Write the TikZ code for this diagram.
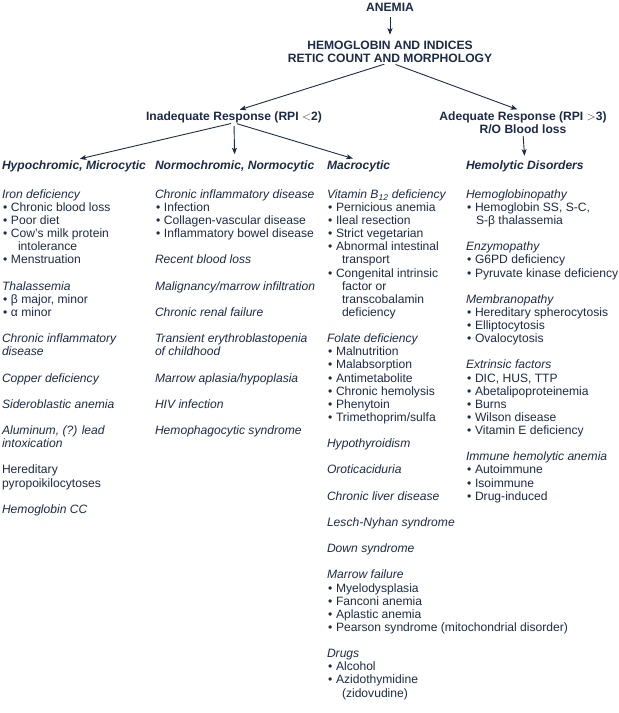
\documentclass[tikz,border=0pt]{standalone}
\usepackage{fontspec}
\setmainfont{Liberation Sans}
\usetikzlibrary{arrows.meta, positioning}
\definecolor{ink}{HTML}{1C2A48}
\newcommand{\itm}{\makebox[9pt][l]{\hspace*{1pt}•}}
\newcommand{\grp}[1]{{\itshape #1}}
\newcommand{\skipline}{\\[13.125pt]}

\begin{document}
\begin{tikzpicture}[x=1pt, y=-1pt, >={Stealth[length=6.5pt, width=5pt, inset=1.5pt]},
	every node/.style={inner sep=0pt, outer sep=0pt, text=ink, font=\fontsize{12.1}{13.125}\selectfont},
	rung/.style={font=\fontsize{12.1}{13.125}\selectfont\bfseries, align=center},
	headbox/.style={font=\fontsize{12.1}{13.125}\selectfont\bfseries\itshape, anchor=base west},
	listbox/.style={align=left, anchor=north west},
	link/.style={->, color=ink, line width=0.9pt, shorten <=6pt, shorten >=6pt}]
	\useasboundingbox (0,0) rectangle (619,713);

	\node[rung, anchor=base] (anemia) at (390,11.3) {ANEMIA};
	\node[rung, anchor=north] (hgb) at (390,40.7) {HEMOGLOBIN AND INDICES\\RETIC COUNT AND MORPHOLOGY};
	\node[rung, anchor=base] (inad) at (234,120.3) {Inadequate Response (RPI $<$2)};
	\node[rung, anchor=north] (adeq) at (523,111.5) {Adequate Response (RPI $>$3)\\R/O Blood loss};

	\node[headbox] (hypo) at (2,169) {Hypochromic, Microcytic};
	\node[headbox] (normo) at (155,169) {Normochromic, Normocytic};
	\node[headbox] (macro) at (327,169) {Macrocytic};
	\node[headbox] (hemo) at (466,169) {Hemolytic Disorders};

	\node[listbox] (hypolist) at (2,189.5) {\grp{Iron deficiency}\\
		\itm Chronic blood loss\\
		\itm Poor diet\\
		\itm Cow's milk protein\\
		\hspace*{16pt}intolerance\\
		\itm Menstruation\skipline
		\grp{Thalassemia}\\
		\itm β major, minor\\
		\itm α minor\skipline
		\grp{Chronic inflammatory}\\
		\grp{disease}\skipline
		\grp{Copper deficiency}\skipline
		\grp{Sideroblastic anemia}\skipline
		\grp{Aluminum, (?) lead}\\
		\grp{intoxication}\skipline
		Hereditary\\
		pyropoikilocytoses\skipline
		\grp{Hemoglobin CC}};

	\node[listbox] (normolist) at (155,189.5) {\grp{Chronic inflammatory disease}\\
		\itm Infection\\
		\itm Collagen-vascular disease\\
		\itm Inflammatory bowel disease\skipline
		\grp{Recent blood loss}\skipline
		\grp{Malignancy/marrow infiltration}\skipline
		\grp{Chronic renal failure}\skipline
		\grp{Transient erythroblastopenia}\\
		\grp{of childhood}\skipline
		\grp{Marrow aplasia/hypoplasia}\skipline
		\grp{HIV infection}\skipline
		\grp{Hemophagocytic syndrome}};

	\node[listbox] (macrolist) at (327,189.5) {\grp{Vitamin B\textsubscript{12} deficiency}\\
		\itm Pernicious anemia\\
		\itm Ileal resection\\
		\itm Strict vegetarian\\
		\itm Abnormal intestinal\\
		\hspace*{15pt}transport\\
		\itm Congenital intrinsic\\
		\hspace*{15pt}factor or\\
		\hspace*{15pt}transcobalamin\\
		\hspace*{15pt}deficiency\skipline
		\grp{Folate deficiency}\\
		\itm Malnutrition\\
		\itm Malabsorption\\
		\itm Antimetabolite\\
		\itm Chronic hemolysis\\
		\itm Phenytoin\\
		\itm Trimethoprim/sulfa\skipline
		\grp{Hypothyroidism}\skipline
		\grp{Oroticaciduria}\skipline
		\grp{Chronic liver disease}\skipline
		\grp{Lesch-Nyhan syndrome}\skipline
		\grp{Down syndrome}\skipline
		\grp{Marrow failure}\\
		\itm Myelodysplasia\\
		\itm Fanconi anemia\\
		\itm Aplastic anemia\\
		\itm Pearson syndrome (mitochondrial disorder)\skipline
		\grp{Drugs}\\
		\itm Alcohol\\
		\itm Azidothymidine\\
		\hspace*{15pt}(zidovudine)};

	\node[listbox] (hemolist) at (466,189.5) {\grp{Hemoglobinopathy}\\
		\itm Hemoglobin SS, S-C,\\
		\hspace*{10pt}S-β thalassemia\skipline
		\grp{Enzymopathy}\\
		\itm G6PD deficiency\\
		\itm Pyruvate kinase deficiency\skipline
		\grp{Membranopathy}\\
		\itm Hereditary spherocytosis\\
		\itm Elliptocytosis\\
		\itm Ovalocytosis\skipline
		\grp{Extrinsic factors}\\
		\itm DIC, HUS, TTP\\
		\itm Abetalipoproteinemia\\
		\itm Burns\\
		\itm Wilson disease\\
		\itm Vitamin E deficiency\skipline
		\grp{Immune hemolytic anemia}\\
		\itm Autoimmune\\
		\itm Isoimmune\\
		\itm Drug-induced};

	\path[link]
	(anemia.south) edge (hgb.north)
	(hgb.south) edge (inad.north)
	(hgb.south) edge (adeq.north)
	(inad.south) edge[shorten <=3pt] (hypo.north)
	(inad.south) edge[shorten <=3pt] (normo.north)
	(inad.south) edge[shorten <=3pt] (macro.north)
	(adeq.south) edge[shorten <=2.5pt, shorten >=4.5pt] (hemo.north);
\end{tikzpicture}
\end{document}
